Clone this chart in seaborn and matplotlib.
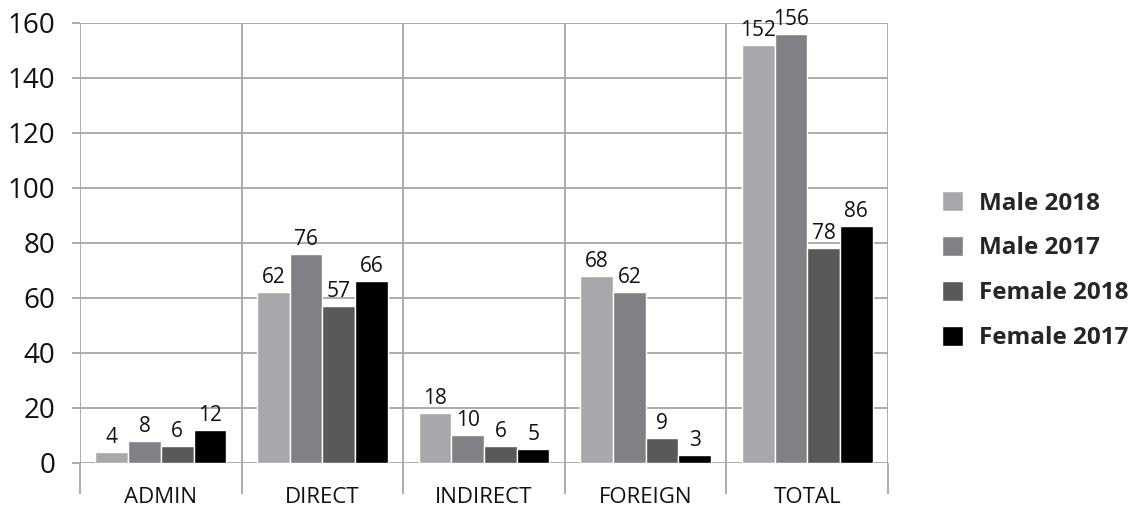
import matplotlib
matplotlib.use("Agg")
import matplotlib.pyplot as plt
import seaborn as sns
import pandas as pd

categories = ["ADMIN", "DIRECT", "INDIRECT", "FOREIGN", "TOTAL"]
series = ["Male 2018", "Male 2017", "Female 2018", "Female 2017"]
male_2018 = [4, 62, 18, 68, 152]
male_2017 = [8, 76, 10, 62, 156]
female_2018 = [6, 57, 6, 9, 78]
female_2017 = [12, 66, 5, 3, 86]
y_ticks = [0, 20, 40, 60, 80, 100, 120, 140, 160]

colors = ["#A7A8AB", "#808185", "#58595B", "#000000"]
grid_color = "#A6A6A6"

rows = []
for name, vals in zip(series, [male_2018, male_2017, female_2018, female_2017]):
    for cat, v in zip(categories, vals):
        rows.append({"Category": cat, "Series": name, "Value": v})
df = pd.DataFrame(rows)

sns.set_style("white")
plt.rcParams["font.family"] = ["Open Sans", "DejaVu Sans"]

fig = plt.figure(figsize=(11.4, 5.09), dpi=100)
ax = fig.add_axes([0.0702, 0.0904, 0.7088, 0.8646])

sns.barplot(data=df, x="Category", y="Value", hue="Series", order=categories,
            hue_order=series, palette=colors, width=0.81, gap=0,
            saturation=1, errorbar=None, ax=ax, legend=True, zorder=3)

for cont in ax.containers:
    ax.bar_label(cont, fontsize=15, padding=3, color="#111111")

ax.set_ylim(0, 160)
ax.set_xlim(-0.5, 4.5)
ax.set_yticks(y_ticks)
ax.set_yticklabels([str(t) for t in y_ticks], fontsize=20)
ax.set_xticks(range(len(categories)))
ax.set_xticklabels(categories, fontsize=16)
ax.set_xticks([i - 0.5 for i in range(len(categories) + 1)], minor=True)

for s in ax.spines.values():
    s.set_visible(False)

ax.grid(False)
ax.yaxis.grid(True, color=grid_color, linewidth=1.3, zorder=0)
ax.xaxis.grid(True, which="minor", color=grid_color, linewidth=1.3, zorder=0)
ax.set_axisbelow(True)
ax.tick_params(axis="y", which="major", length=6, width=1.3, color=grid_color,
               pad=12, left=True, labelcolor="#111111")
ax.tick_params(axis="x", which="major", length=0, pad=17, labelcolor="#111111")
ax.tick_params(axis="x", which="minor", length=22, width=1.3, color=grid_color,
               bottom=True)
ax.set_xlabel("")
ax.set_ylabel("")

handles, labels = ax.get_legend_handles_labels()
ax.get_legend().remove()
fig.legend(handles, labels, loc="center left", bbox_to_anchor=(0.807, 0.468),
           frameon=False, prop={"size": 17.5, "weight": "bold"},
           handlelength=0.87, handleheight=0.87, handletextpad=0.65,
           labelspacing=0.85, borderpad=0.4)

fig.savefig("out.png", dpi=100)
